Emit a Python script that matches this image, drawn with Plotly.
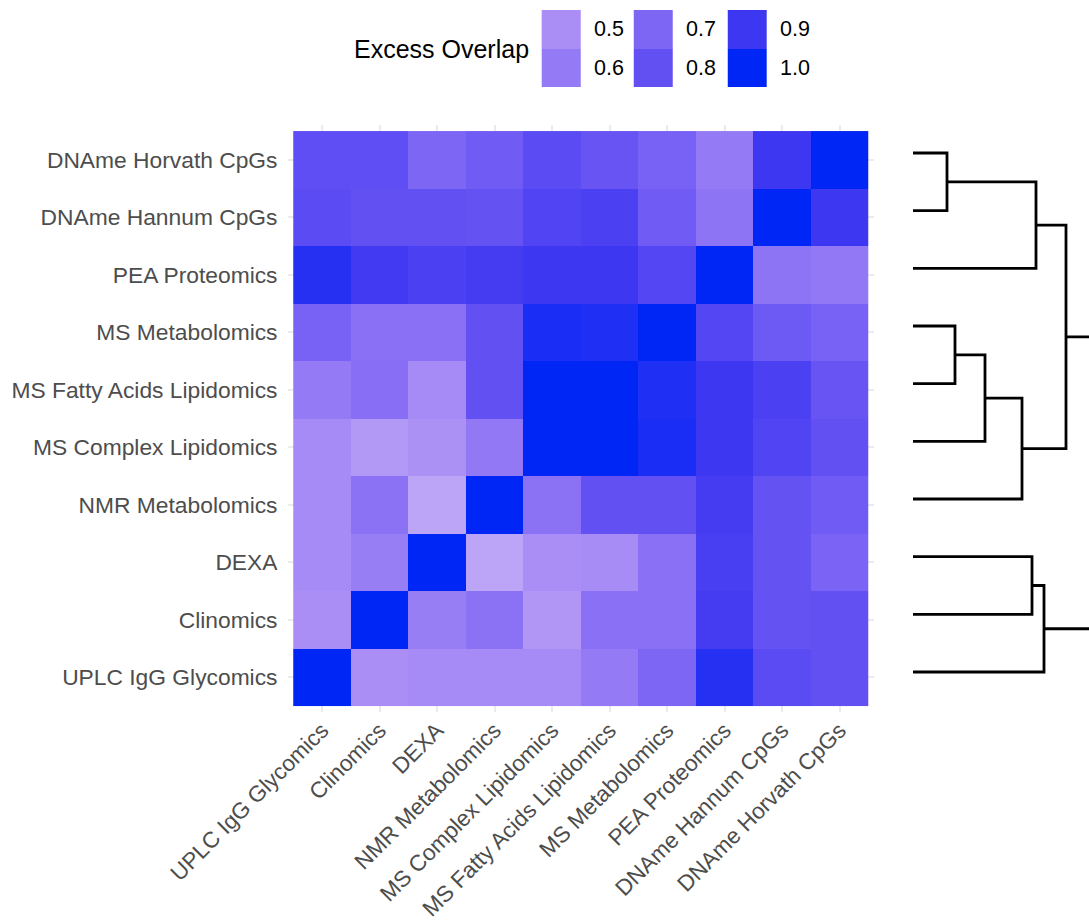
import math
import plotly.graph_objects as go

# ---------------- data ----------------
categories = [
    "UPLC IgG Glycomics",
    "Clinomics",
    "DEXA",
    "NMR Metabolomics",
    "MS Complex Lipidomics",
    "MS Fatty Acids Lipidomics",
    "MS Metabolomics",
    "PEA Proteomics",
    "DNAme Hannum CpGs",
    "DNAme Horvath CpGs",
]

# one row per y category (bottom -> top), columns in `categories` order
row_uplc    = [1.00, 0.50, 0.52, 0.52, 0.52, 0.60, 0.70, 0.94, 0.82, 0.80]
row_clin    = [0.50, 1.00, 0.58, 0.64, 0.47, 0.65, 0.65, 0.88, 0.79, 0.80]
row_dexa    = [0.52, 0.58, 1.00, 0.42, 0.50, 0.51, 0.65, 0.87, 0.79, 0.71]
row_nmr     = [0.52, 0.64, 0.42, 1.00, 0.64, 0.80, 0.80, 0.88, 0.79, 0.75]
row_mscl    = [0.52, 0.46, 0.49, 0.61, 1.00, 1.00, 0.96, 0.90, 0.85, 0.80]
row_msfa    = [0.60, 0.66, 0.52, 0.80, 1.00, 1.00, 0.95, 0.90, 0.86, 0.78]
row_msmet   = [0.72, 0.65, 0.65, 0.80, 0.96, 0.95, 1.00, 0.84, 0.76, 0.72]
row_pea     = [0.94, 0.89, 0.86, 0.88, 0.90, 0.90, 0.84, 1.00, 0.63, 0.61]
row_hannum  = [0.82, 0.80, 0.80, 0.79, 0.85, 0.86, 0.75, 0.63, 1.00, 0.90]
row_horvath = [0.81, 0.81, 0.70, 0.75, 0.82, 0.78, 0.72, 0.60, 0.90, 1.00]

legend_values = [0.5, 0.6, 0.7, 0.8, 0.9, 1.0]
legend_labels = ["0.5", "0.6", "0.7", "0.8", "0.9", "1.0"]
legend_title = "Excess Overlap"

# dendrogram (hierarchical clustering of the rows); "#k" refers to merge k
dend_child_a = ["DNAme Horvath CpGs", "#0", "MS Metabolomics", "#2", "#3", "#1", "DEXA", "#6", "#5"]
dend_child_b = ["DNAme Hannum CpGs", "PEA Proteomics", "MS Fatty Acids Lipidomics",
                "MS Complex Lipidomics", "NMR Metabolomics", "#4", "Clinomics",
                "UPLC IgG Glycomics", "#7"]
dend_height = [0.34, 1.23, 0.42, 0.72, 1.09, 1.53, 1.19, 1.31, 2.10]

# ---------------- styling ----------------
W, H = 1089, 920
FONT = "Liberation Sans, Arial, sans-serif"
TICK_COL = "#4d4d4d"
GRID_COL = "#ebebeb"

colorscale = [
    [0 / 6, "rgb(193,170,247)"],
    [1 / 6, "rgb(170,142,245)"],
    [2 / 6, "rgb(148,122,245)"],
    [3 / 6, "rgb(126,102,245)"],
    [4 / 6, "rgb(98,80,243)"],
    [5 / 6, "rgb(62,55,242)"],
    [6 / 6, "rgb(0,38,245)"],
]
ZMIN, ZMAX = 0.4, 1.0

z = [row_uplc, row_clin, row_dexa, row_nmr, row_mscl, row_msfa,
     row_msmet, row_pea, row_hannum, row_horvath]

# panel geometry (pixels)
panel_l, panel_r = 287.5, 874.0
panel_t, panel_b = 125.3, 711.8

fig = go.Figure()

fig.add_trace(go.Heatmap(
    z=z, x=categories, y=categories,
    colorscale=colorscale, zmin=ZMIN, zmax=ZMAX,
    showscale=False, xaxis="x", yaxis="y",
    hovertemplate="%{y} / %{x}: %{z}<extra></extra>",
))

# ---- dendrogram coordinates derived from the merge table ----
pos = {name: (0.0, float(i)) for i, name in enumerate(categories)}
dx, dy = [], []
for k, (a, b, h) in enumerate(zip(dend_child_a, dend_child_b, dend_height)):
    ha, ya = pos[a]
    hb, yb = pos[b]
    dx += [ha, h, h, hb, None]
    dy += [ya, ya, yb, yb, None]
    pos["#%d" % k] = (h, (ya + yb) / 2.0)

fig.add_trace(go.Scatter(
    x=dx, y=dy, mode="lines", xaxis="x2", yaxis="y2",
    line=dict(color="black", width=2.8), hoverinfo="skip", showlegend=False,
))

# ---- legend keys (binned colour guide) ----
key_w, key_h = 39.0, 38.7
key_x0 = [541.7, 634.0, 727.7]
key_y0 = 10.0
x_edges = []
for x0 in key_x0:
    x_edges += [x0, x0 + key_w]
nan = float("nan")
top_vals = legend_values[0::2]
bot_vals = legend_values[1::2]
z_leg = [
    [top_vals[0], nan, top_vals[1], nan, top_vals[2]],
    [bot_vals[0], nan, bot_vals[1], nan, bot_vals[2]],
]
fig.add_trace(go.Heatmap(
    z=z_leg, x=x_edges, y=[key_y0, key_y0 + key_h, key_y0 + 2 * key_h],
    colorscale=colorscale, zmin=ZMIN, zmax=ZMAX, showscale=False,
    xaxis="x3", yaxis="y3", hoverinfo="skip",
))

annotations = []
for i, lab in enumerate(legend_labels):
    col, row = divmod(i, 2)
    annotations.append(dict(
        x=key_x0[col] + key_w + 11, y=key_y0 + key_h * (row + 0.5),
        xref="x3", yref="y3", text=lab, showarrow=False,
        xanchor="left", yanchor="middle",
        font=dict(family=FONT, size=21.5, color="black"),
    ))
annotations.append(dict(
    x=352, y=key_y0 + key_h, xref="x3", yref="y3", text=legend_title,
    showarrow=False, xanchor="left", yanchor="middle",
    font=dict(family=FONT, size=25, color="black"),
))

ydom = [(H - panel_b) / H, (H - panel_t) / H]

# dendrogram y range: leaves slightly shifted relative to heatmap rows
leaf_top_px, leaf_bot_px = 153.0, 672.0
step = (leaf_bot_px - leaf_top_px) / (len(categories) - 1)
y2_lo = -(panel_b - leaf_bot_px) / step
y2_hi = (len(categories) - 1) + (leaf_top_px - panel_t) / step

axis_common = dict(
    type="category", categoryorder="array", categoryarray=categories,
    range=[-0.6, len(categories) - 0.4],
    showgrid=True, gridcolor=GRID_COL, gridwidth=1.6,
    zeroline=False, showline=False, ticks="",
)

fig.update_layout(
    width=W, height=H,
    margin=dict(l=0, r=0, t=0, b=0, autoexpand=False),
    paper_bgcolor="white", plot_bgcolor="rgba(0,0,0,0)",
    showlegend=False,
    xaxis=dict(domain=[panel_l / W, panel_r / W], anchor="y",
               tickangle=-45,
               tickfont=dict(family=FONT, size=22.5, color=TICK_COL),
               **axis_common),
    yaxis=dict(domain=ydom, anchor="x", ticklabelstandoff=9,
               tickfont=dict(family=FONT, size=22.8, color=TICK_COL),
               **axis_common),
    xaxis2=dict(domain=[880 / W, 1.0], anchor="y2",
                range=[-0.33, (W - 913) / 100.0], visible=False, fixedrange=True),
    yaxis2=dict(domain=ydom, anchor="x2", range=[y2_lo, y2_hi],
                visible=False, fixedrange=True),
    xaxis3=dict(domain=[0, 1], anchor="y3", range=[0, W], visible=False),
    yaxis3=dict(domain=[0, 1], anchor="x3", range=[H, 0], visible=False),
    annotations=annotations,
    font=dict(family=FONT),
)

fig.write_html("out.html")
